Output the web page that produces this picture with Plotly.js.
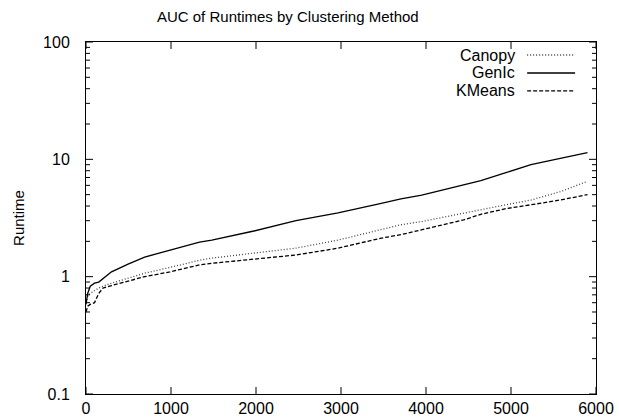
<!DOCTYPE html>
<html>
<head>
<meta charset="utf-8">
<script src="https://cdn.plot.ly/plotly-3.0.1.min.js"></script>
<style>html,body{margin:0;padding:0;background:#fff;}#chart{width:619px;height:420px;}</style>
</head>
<body>
<div id="chart"></div>
<script>
// Data
const steps = [0, 20, 50, 100, 150, 200, 300, 495, 690, 990, 1335, 1480, 1975, 2470, 2965, 3460, 3705, 3950, 4445, 4645, 4940, 5235, 5580, 5900];
const canopy = [0.6, 0.68, 0.72, 0.76, 0.80, 0.83, 0.88, 0.97, 1.07, 1.2, 1.38, 1.44, 1.58, 1.75, 2.05, 2.5, 2.77, 2.95, 3.5, 3.75, 4.1, 4.5, 5.3, 6.5];
const genic = [0.58, 0.72, 0.83, 0.88, 0.90, 0.96, 1.1, 1.28, 1.47, 1.68, 1.97, 2.05, 2.45, 3.0, 3.5, 4.2, 4.6, 4.95, 6.1, 6.6, 7.7, 9.0, 10.2, 11.4];
const kmeans = [0.5, 0.56, 0.58, 0.6, 0.72, 0.80, 0.84, 0.92, 1.0, 1.1, 1.26, 1.3, 1.4, 1.53, 1.75, 2.12, 2.28, 2.5, 3.05, 3.4, 3.8, 4.1, 4.5, 5.0];
const seriesNames = ["Canopy", "GenIc", "KMeans"];
const xTickVals = [0, 1000, 2000, 3000, 4000, 5000, 6000];
const yTickVals = [0.1, 1, 10, 100];
const yTickText = ["0.1", "1", "10", "100"];
const yMinorVals = [0.2, 0.3, 0.4, 0.5, 0.6, 0.7, 0.8, 0.9, 2, 3, 4, 5, 6, 7, 8, 9, 20, 30, 40, 50, 60, 70, 80, 90];
const yRangeLog = [-1, 2];

const FONT = "Liberation Sans, Arial, Helvetica, sans-serif";
const W = 619, H = 420, M = {l: 86, r: 23, t: 42, b: 26};
const plotW = W - M.l - M.r, plotH = H - M.t - M.b;
const styles = [
  {color: "#444", dash: "1px,2px"},
  {color: "#000", dash: "solid"},
  {color: "#000", dash: "4px,2px"}
];
const ys = [canopy, genic, kmeans];
const traces = ys.map((y, i) => ({
  x: steps, y: y, type: "scatter", mode: "lines", name: seriesNames[i],
  line: {color: styles[i].color, width: 1.3, dash: styles[i].dash},
  showlegend: false
}));

const annotations = [];
const shapes = [];
// gnuplot-style inward ticks on all four sides
const tk = {color: "#000", width: 1};
const majX = 7 / plotH, majY = 7 / plotW, minY = 4 / plotW;
xTickVals.forEach(v => {
  shapes.push({type: "line", xref: "x", yref: "paper", x0: v, x1: v, y0: 0, y1: majX, line: tk});
  shapes.push({type: "line", xref: "x", yref: "paper", x0: v, x1: v, y0: 1, y1: 1 - majX, line: tk});
});
const yFrac = v => (Math.log10(v) - yRangeLog[0]) / (yRangeLog[1] - yRangeLog[0]);
[[yTickVals, majY], [yMinorVals, minY]].forEach(([vals, len]) => {
  vals.forEach(v => {
    const f = yFrac(v);
    shapes.push({type: "line", xref: "paper", yref: "paper", x0: 0, x1: len, y0: f, y1: f, line: tk});
    shapes.push({type: "line", xref: "paper", yref: "paper", x0: 1, x1: 1 - len, y0: f, y1: f, line: tk});
  });
});

// legend drawn as right-aligned text + line samples (gnuplot style)
const legY = [0.963, 0.912, 0.861];
seriesNames.forEach((n, i) => {
  annotations.push({xref: "paper", yref: "paper", x: 0.845, y: legY[i], xanchor: "right", yanchor: "middle",
    text: n, showarrow: false, font: {family: FONT, size: 16, color: "#000"}});
  shapes.push({type: "line", xref: "paper", yref: "paper", x0: 0.865, x1: 0.959, y0: legY[i], y1: legY[i],
    line: {color: styles[i].color, width: 1.3, dash: styles[i].dash}});
});

const layout = {
  width: W, height: H,
  margin: M,
  paper_bgcolor: "#fff", plot_bgcolor: "#fff",
  font: {family: FONT, size: 16, color: "#000"},
  title: {text: "AUC of Runtimes by Clustering Method", font: {family: FONT, size: 15, color: "#000"},
    x: 0.465, xref: "container", xanchor: "center", y: 0.96, yanchor: "middle"},
  xaxis: {
    range: [0, 6000], tickmode: "array", tickvals: xTickVals, showgrid: false, zeroline: false,
    showline: true, linecolor: "#000", linewidth: 1, mirror: true,
    ticks: "", tickfont: {family: FONT, size: 16, color: "#000"}
  },
  yaxis: {
    type: "log", range: yRangeLog, tickmode: "array", tickvals: yTickVals, ticktext: yTickText,
    showgrid: false, zeroline: false,
    showline: true, linecolor: "#000", linewidth: 1, mirror: true,
    ticks: "", ticklabelstandoff: 12,
    tickfont: {family: FONT, size: 16, color: "#000"},
    title: {text: "Runtime", font: {family: FONT, size: 15, color: "#000"}, standoff: 14}
  },
  annotations: annotations,
  shapes: shapes,
  showlegend: false
};

Plotly.newPlot("chart", traces, layout, {staticPlot: true, displayModeBar: false});
</script>
</body>
</html>
